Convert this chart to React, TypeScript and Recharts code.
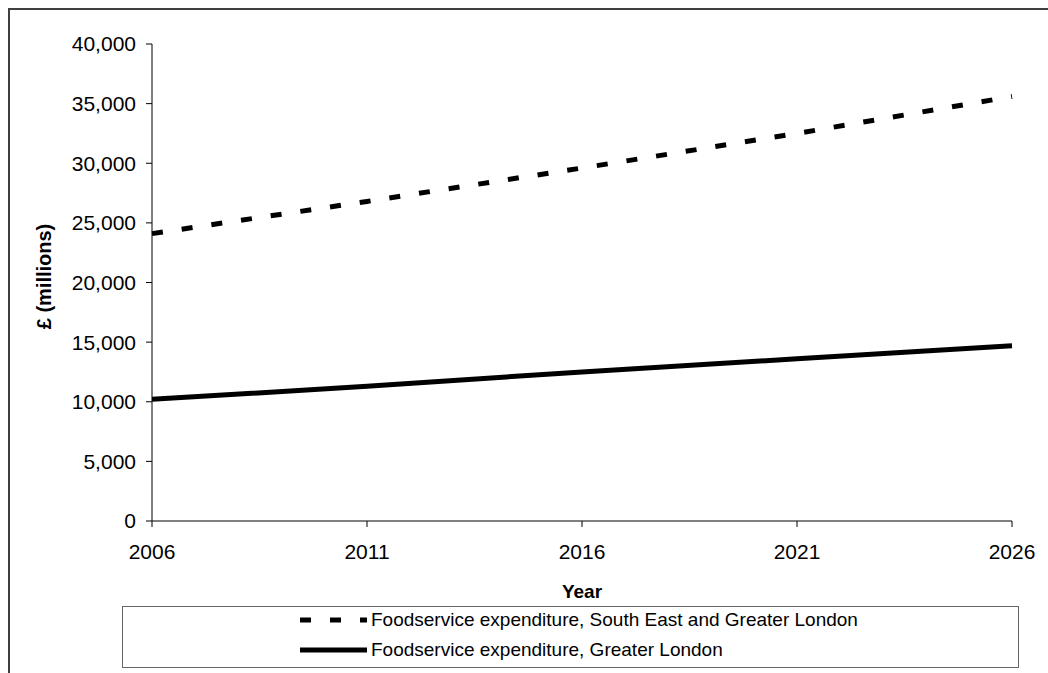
import React from 'react';
import { LineChart, Line, XAxis, YAxis, Legend } from 'recharts';

const years = ['2006', '2011', '2016', '2021', '2026'];
const southEastAndLondon = [24100, 26800, 29600, 32500, 35600];
const greaterLondon = [10200, 11300, 12500, 13600, 14700];
const yTicks = [0, 5000, 10000, 15000, 20000, 25000, 30000, 35000, 40000];

const series = [
  { key: 'seLondon', name: 'Foodservice expenditure, South East and Greater London', dash: '11 19' },
  { key: 'london', name: 'Foodservice expenditure, Greater London', dash: undefined as string | undefined },
];

const data = years.map((year, i) => ({
  year,
  seLondon: southEastAndLondon[i],
  london: greaterLondon[i],
}));

const FONT = '"Liberation Sans", Arial, sans-serif';

const YTitle = ({ viewBox }: any) => {
  const cx = 34;
  const cy = viewBox.y + viewBox.height / 2 - 6;
  return (
    <text
      x={cx}
      y={cy}
      transform={`rotate(-90 ${cx} ${cy})`}
      textAnchor="middle"
      dominantBaseline="central"
      fontFamily={FONT}
      fontSize={20}
      fontWeight="bold"
      fill="#000"
    >
      £ (millions)
    </text>
  );
};

const XTitle = ({ viewBox }: any) => (
  <text
    x={viewBox.x + viewBox.width / 2}
    y={588}
    textAnchor="middle"
    fontFamily={FONT}
    fontSize={19}
    fontWeight="bold"
    fill="#000"
  >
    Year
  </text>
);

// legend box with a short sample of each line in front of its name
const LegendBox = () => (
  <div
    style={{
      boxSizing: 'border-box',
      width: 897,
      height: 62,
      border: '1.5px solid #666',
      background: '#fff',
      fontFamily: FONT,
      fontSize: 19,
      color: '#000',
    }}
  >
    {series.map((s, i) => (
      <div
        key={s.key}
        style={{ position: 'absolute', left: 178, top: i === 0 ? 1 : 31, height: 26, display: 'flex', alignItems: 'center' }}
      >
        <svg width={67} height={10} style={{ display: 'block' }}>
          <line x1={0} y1={5} x2={67} y2={5} stroke="#000" strokeWidth={5} strokeDasharray={s.dash} />
        </svg>
        <span style={{ marginLeft: 4, whiteSpace: 'nowrap' }}>{s.name}</span>
      </div>
    ))}
  </div>
);

export default function App() {
  return (
    <div
      style={{
        position: 'absolute',
        left: 8,
        top: 8,
        width: 1040,
        height: 665,
        boxSizing: 'border-box',
        borderTop: '2px solid #404040',
        borderLeft: '2px solid #404040',
        overflow: 'hidden',
        background: '#fff',
      }}
    >
      <LineChart width={1038} height={663} data={data} margin={{ top: 34, right: 36, left: 0, bottom: 122 }}>
        <XAxis
          dataKey="year"
          height={30}
          stroke="#000"
          tickSize={6}
          tickMargin={17}
          tick={{ fill: '#000', fontSize: 21, fontFamily: FONT }}
          label={<XTitle />}
        />
        <YAxis
          width={142}
          domain={[0, 40000]}
          ticks={yTicks}
          interval={0}
          stroke="#000"
          tickSize={6}
          tickMargin={10}
          tick={{ fill: '#000', fontSize: 21, fontFamily: FONT }}
          tickFormatter={(v: number) => v.toLocaleString('en-US')}
          label={<YTitle />}
        />
        <Legend
          layout="horizontal"
          verticalAlign="middle"
          align="center"
          content={<LegendBox />}
          wrapperStyle={{ top: 596, left: 112, width: 897, height: 62 }}
        />
        {series.map(s => (
          <Line
            key={s.key}
            type="linear"
            dataKey={s.key}
            name={s.name}
            stroke="#000"
            strokeWidth={5}
            strokeDasharray={s.dash}
            dot={false}
            activeDot={false}
            isAnimationActive={false}
          />
        ))}
      </LineChart>
    </div>
  );
}
